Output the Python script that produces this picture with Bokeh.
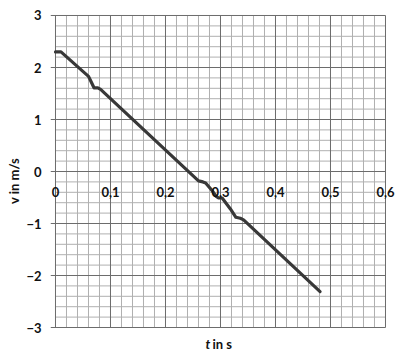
from bokeh.plotting import figure
from bokeh.models import FixedTicker, LinearAxis, Range1d
from bokeh.core.properties import value
from bokeh.embed import file_html
from bokeh.resources import INLINE

# ---- data ----
t = [0.0, 0.01, 0.06, 0.065, 0.07, 0.077, 0.082, 0.26, 0.268, 0.273,
     0.285, 0.292, 0.297, 0.303, 0.318, 0.328, 0.336, 0.342, 0.481]
v = [2.3, 2.3, 1.83, 1.72, 1.61, 1.61, 1.58, -0.18, -0.2, -0.22,
     -0.37, -0.48, -0.51, -0.51, -0.72, -0.88, -0.9, -0.93, -2.31]

x_ticks = [0.0, 0.1, 0.2, 0.3, 0.4, 0.5, 0.6]
x_tick_labels = ["0", "0,1", "0,2", "0,3", "0,4", "0,5", "0,6"]
y_ticks = [-3, -2, -1, 0, 1, 2, 3]
x_minor = [i / 50 for i in range(31) if i % 5 != 0]
y_minor = [i / 5 for i in range(-15, 16) if i % 5 != 0]

FONT = "Lato"
TXT = "#111111"
XMIN, XMAX = x_ticks[0], x_ticks[-1]
YMIN, YMAX = y_ticks[0], y_ticks[-1]
TICK_LEN = 5 / 550  # data length of the 5px outward tick

p = figure(width=400, height=351, output_backend="svg", toolbar_location=None,
           x_range=Range1d(XMIN - TICK_LEN, 0.627273),
           y_range=Range1d(-3.4615, 3.09615),
           x_axis_type=None, y_axis_type=None,
           min_border_left=50, min_border_right=0,
           min_border_top=10, min_border_bottom=0)
p.background_fill_color = "white"
p.border_fill_color = "white"
p.outline_line_color = None

yaxis = LinearAxis(ticker=FixedTicker(ticks=y_ticks))
yaxis.axis_line_color = None
yaxis.major_tick_out = 0
yaxis.major_tick_in = 0
yaxis.minor_tick_out = 0
yaxis.minor_tick_in = 0
yaxis.major_label_standoff = 9
yaxis.major_label_text_font = FONT
yaxis.major_label_text_font_style = "bold"
yaxis.major_label_text_font_size = "13px"
yaxis.major_label_text_color = TXT
yaxis.axis_label = "v in m/s"
yaxis.axis_label_standoff = 1
yaxis.axis_label_text_font = FONT
yaxis.axis_label_text_font_style = "bold"
yaxis.axis_label_text_font_size = "13px"
yaxis.axis_label_text_color = TXT
p.add_layout(yaxis, "left")

# paper grid (minor, then major on top)
p.segment(x0=x_minor, y0=[YMIN] * len(x_minor), x1=x_minor, y1=[YMAX] * len(x_minor),
          line_color="#b0b0b0", line_width=1)
p.segment(x0=[XMIN] * len(y_minor), y0=y_minor, x1=[XMAX] * len(y_minor), y1=y_minor,
          line_color="#b0b0b0", line_width=1)
p.segment(x0=x_ticks, y0=[YMIN] * len(x_ticks), x1=x_ticks, y1=[YMAX] * len(x_ticks),
          line_color="#6c6c6c", line_width=1)
p.segment(x0=[XMIN - TICK_LEN] * len(y_ticks), y0=y_ticks,
          x1=[XMAX] * len(y_ticks), y1=y_ticks,
          line_color="#6c6c6c", line_width=1)

p.line(t, v, line_color="#383838", line_width=3.2,
       line_join="round", line_cap="round")

# x tick labels sit just under the v = 0 line
p.text(x=x_ticks, y=[0] * len(x_ticks), text=x_tick_labels,
       text_align="center", text_baseline="middle", y_offset=20,
       text_font=value(FONT), text_font_style="bold",
       text_font_size="13px", text_color=TXT)

# x axis title "t in s" with italic t
p.text(x=[0.2727], y=[-3.315], text=["t"], text_align="left",
       text_baseline="alphabetic", text_font=value(FONT),
       text_font_style="bold italic", text_font_size="13px", text_color=TXT)
p.text(x=[0.2855], y=[-3.315], text=["in s"], text_align="left",
       text_baseline="alphabetic", text_font=value(FONT),
       text_font_style="bold", text_font_size="13px", text_color=TXT)

open("out.html", "w").write(file_html(p, INLINE))
